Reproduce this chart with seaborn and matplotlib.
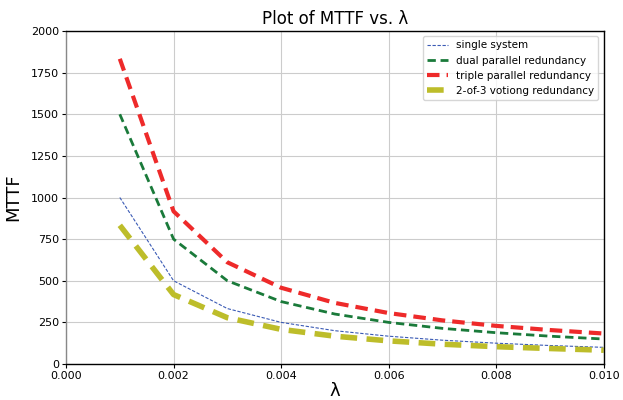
import matplotlib
matplotlib.use("Agg")
import matplotlib.pyplot as plt
import seaborn as sns
import pandas as pd

# failure rate values
lam = [0.001, 0.002, 0.003, 0.004, 0.005, 0.006, 0.007, 0.008, 0.009, 0.010]
single = [1000, 500, 333, 250, 200, 167, 143, 125, 111, 100]
dual = [1500, 750, 500, 375, 300, 250, 214, 188, 167, 150]
triple = [1833, 917, 611, 458, 367, 306, 262, 229, 204, 183]
two_of_three = [833, 417, 278, 208, 167, 139, 119, 104, 93, 83]

labels = ["single system", "dual parallel redundancy",
          "triple parallel redundancy", "2-of-3 votiong redundancy"]
series = [single, dual, triple, two_of_three]
colors = ["#3b5bb5", "#1a7a3a", "#ee2a2a", "#bdbd2a"]
widths = [0.8, 2, 3, 4]
dashes = [(3, 1.5), (3, 1.7), (3, 1.7), (3, 1.7)]

sns.set_style("whitegrid", {"text.color": "black", "axes.labelcolor": "black",
                            "xtick.color": "black", "ytick.color": "black"})
fig = plt.figure(figsize=(6.23, 4), dpi=100)
ax = fig.add_axes([0.106, 0.09, 0.863, 0.8325])

for lbl, vals, c, w in zip(labels, series, colors, widths):
    df = pd.DataFrame({"lam": lam, "mttf": vals})
    sns.lineplot(data=df, x="lam", y="mttf", ax=ax, color=c, linewidth=w,
                 label=lbl, linestyle="--", dashes=False)
for line, d in zip(ax.get_lines(), dashes):
    line.set_dashes(d)

ax.set_xlim(0, 0.010)
ax.set_ylim(0, 2000)
ax.set_xticks([0.000, 0.002, 0.004, 0.006, 0.008, 0.010])
ax.set_xticklabels(["0.000", "0.002", "0.004", "0.006", "0.008", "0.010"])
ax.tick_params(labelsize=8, length=3, pad=2, color="black", left=True, bottom=True)
ax.set_xlabel("λ", fontsize=13, labelpad=1)
ax.set_ylabel("MTTF", fontsize=13, labelpad=6)
ax.set_title("Plot of MTTF vs. λ", fontsize=12, pad=5, color="black")
ax.grid(color="#cccccc", linewidth=0.8)
for s in ax.spines.values():
    s.set_color("black")
    s.set_linewidth(1)
ax.spines["left"].set_color("#888888")
leg = ax.legend(loc="upper right", fontsize=7.5, frameon=True)
for t in leg.get_texts():
    t.set_color("black")
for lh, d in zip(leg.get_lines(), dashes):
    lh.set_dashes(d)

fig.savefig("out.png", dpi=100)
